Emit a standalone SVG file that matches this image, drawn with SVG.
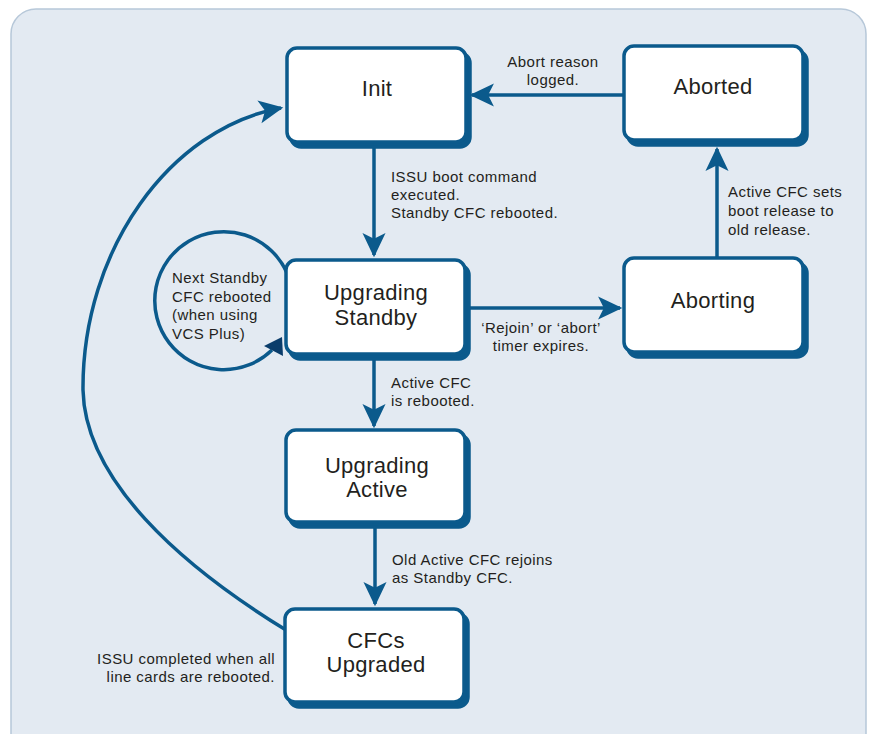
<svg xmlns="http://www.w3.org/2000/svg" width="871" height="734" viewBox="0 0 871 734">
<defs>
<style>
.bg{fill:#e3eaf2;stroke:#b7c8d9;stroke-width:1.5}
.box{fill:#ffffff;stroke:#0b5a8c;stroke-width:3.5}
.sh{fill:#0b5a8c;stroke:#0b5a8c;stroke-width:3.5}
.lbl{font-family:"Liberation Sans",Arial,sans-serif;font-size:22px;fill:#231f20;text-anchor:middle;letter-spacing:0.3px}
.note{font-family:"Liberation Sans",Arial,sans-serif;font-size:15px;fill:#231f20;letter-spacing:0.45px}
.c{text-anchor:middle}
.r{text-anchor:end}
.edge{fill:none;stroke:#0b5a8c;stroke-width:3.5}
</style>
<marker id="ah" markerUnits="userSpaceOnUse" markerWidth="30" markerHeight="30" viewBox="-22 -12 26 24" refX="0" refY="0" orient="auto">
<path d="M2,0 L-19,-10 L-14,0 L-19,10 Z" fill="#0b5a8c"/>
</marker>
</defs>
<rect class="bg" x="11" y="9" width="855" height="760" rx="25"/>

<g id="connectors">
<line class="edge" x1="374" y1="144" x2="374" y2="255" marker-end="url(#ah)"/>
<line class="edge" x1="374" y1="356" x2="374" y2="426" marker-end="url(#ah)"/>
<line class="edge" x1="375" y1="523" x2="375" y2="604" marker-end="url(#ah)"/>
<line class="edge" x1="717" y1="257" x2="717" y2="149" marker-end="url(#ah)"/>
<line class="edge" x1="467" y1="308" x2="620" y2="308" marker-end="url(#ah)"/>
<line class="edge" x1="624" y1="95" x2="472" y2="95" marker-end="url(#ah)"/>
<path class="edge" d="M286,630 C180,565 85,480 83,390 C82,250 170,128 281,108" marker-end="url(#ah)"/>
<path class="edge" d="M287,273 A69,69 0 1 0 272,350"/>
<polygon points="264,346 282,337 283,356" fill="#0a3d6b"/>
</g>

<g id="init">
<rect class="sh" x="291" y="53" width="179" height="94" rx="10"/>
<rect class="box" x="287" y="48" width="179" height="94" rx="10"/>
<text class="lbl" x="377" y="96">Init</text>
</g>
<g id="aborted">
<rect class="sh" x="628" y="51" width="179" height="94" rx="10"/>
<rect class="box" x="624" y="46" width="179" height="94" rx="10"/>
<text class="lbl" x="713" y="94">Aborted</text>
</g>
<g id="aborting">
<rect class="sh" x="628" y="263" width="179" height="94" rx="10"/>
<rect class="box" x="624" y="258" width="179" height="94" rx="10"/>
<text class="lbl" x="713" y="308">Aborting</text>
</g>
<g id="upgrading-standby">
<rect class="sh" x="290" y="265" width="179" height="94" rx="10"/>
<rect class="box" x="286" y="260" width="179" height="94" rx="10"/>
<text class="lbl" x="376" y="300">Upgrading</text>
<text class="lbl" x="376" y="325">Standby</text>
</g>
<g id="upgrading-active">
<rect class="sh" x="290" y="435" width="179" height="92" rx="10"/>
<rect class="box" x="286" y="430" width="179" height="92" rx="10"/>
<text class="lbl" x="377" y="473">Upgrading</text>
<text class="lbl" x="377" y="497">Active</text>
</g>
<g id="cfcs-upgraded">
<rect class="sh" x="289" y="614" width="179" height="93" rx="10"/>
<rect class="box" x="285" y="609" width="179" height="93" rx="10"/>
<text class="lbl" x="376" y="648">CFCs</text>
<text class="lbl" x="376" y="672">Upgraded</text>
</g>

<g id="labels">
<text class="note c" x="553" y="67">Abort reason</text>
<text class="note c" x="553" y="85">logged.</text>
<text class="note" x="391" y="182">ISSU boot command</text>
<text class="note" x="391" y="200">executed.</text>
<text class="note" x="391" y="218">Standby CFC rebooted.</text>
<text class="note" x="728" y="197">Active CFC sets</text>
<text class="note" x="728" y="216">boot release to</text>
<text class="note" x="728" y="235">old release.</text>
<text class="note c" x="541" y="333">‘Rejoin’ or ‘abort’</text>
<text class="note c" x="541" y="351">timer expires.</text>
<text class="note" x="391" y="388">Active CFC</text>
<text class="note" x="391" y="406">is rebooted.</text>
<text class="note" x="392" y="565">Old Active CFC rejoins</text>
<text class="note" x="392" y="583">as Standby CFC.</text>
<text class="note r" x="275" y="664">ISSU completed when all</text>
<text class="note r" x="275" y="682">line cards are rebooted.</text>
<text class="note" x="172" y="283">Next Standby</text>
<text class="note" x="172" y="302">CFC rebooted</text>
<text class="note" x="172" y="320">(when using</text>
<text class="note" x="172" y="339">VCS Plus)</text>
</g>
</svg>
